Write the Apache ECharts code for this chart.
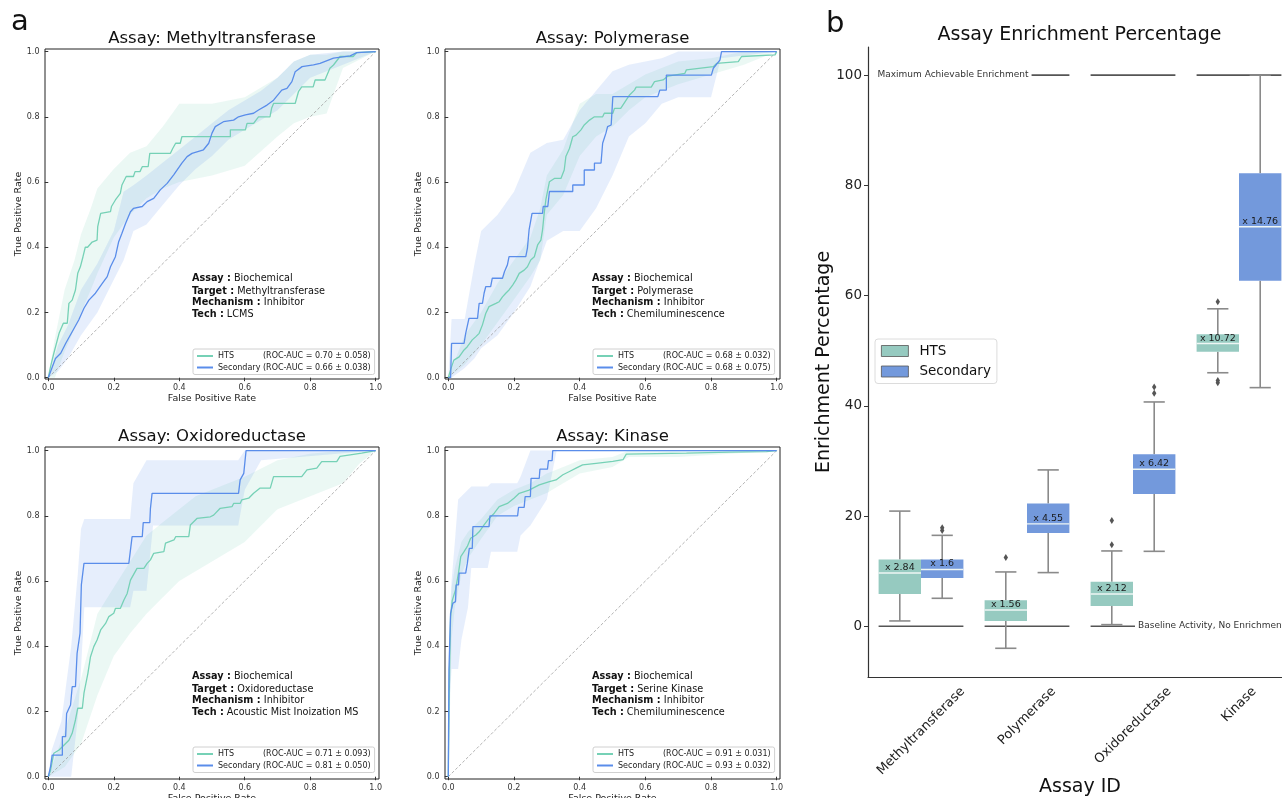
<!DOCTYPE html>
<html>
<head>
<meta charset="utf-8">
<script src="https://cdn.jsdelivr.net/npm/echarts@6/dist/echarts.min.js"></script>
<style>
  html, body { margin: 0; padding: 0; background: #fff; }
  #chart { width: 1282px; height: 798px; }
</style>
</head>
<body>
<div id="chart"></div>
<script>
// ---- ROC curves (mean) : [fpr, tpr] ----
var methHts = [[0,0],[0.007,0.034],[0.017,0.075],[0.033,0.136],[0.046,0.167],[0.058,0.167],[0.063,0.228],[0.073,0.238],[0.083,0.269],[0.09,0.32],[0.098,0.34],[0.106,0.371],[0.113,0.40],[0.12,0.40],[0.134,0.416],[0.149,0.422],[0.151,0.463],[0.16,0.504],[0.19,0.509],[0.193,0.525],[0.205,0.545],[0.22,0.565],[0.225,0.591],[0.238,0.617],[0.26,0.617],[0.265,0.632],[0.28,0.632],[0.287,0.647],[0.305,0.647],[0.31,0.688],[0.373,0.688],[0.38,0.703],[0.389,0.719],[0.403,0.719],[0.408,0.739],[0.556,0.739],[0.556,0.76],[0.602,0.76],[0.607,0.78],[0.627,0.78],[0.642,0.80],[0.677,0.80],[0.682,0.826],[0.688,0.841],[0.754,0.841],[0.764,0.877],[0.774,0.892],[0.809,0.892],[0.815,0.913],[0.845,0.913],[0.86,0.949],[0.871,0.959],[0.891,0.985],[0.931,0.985],[0.942,0.997],[1,1]];
var methSec = [[0,0],[0.022,0.059],[0.038,0.075],[0.053,0.105],[0.073,0.141],[0.093,0.177],[0.109,0.213],[0.124,0.238],[0.144,0.259],[0.165,0.289],[0.18,0.31],[0.19,0.34],[0.205,0.371],[0.215,0.417],[0.225,0.443],[0.236,0.473],[0.251,0.509],[0.26,0.519],[0.287,0.525],[0.302,0.54],[0.322,0.55],[0.342,0.576],[0.363,0.596],[0.383,0.622],[0.408,0.658],[0.424,0.678],[0.439,0.688],[0.474,0.699],[0.49,0.719],[0.5,0.75],[0.51,0.77],[0.535,0.785],[0.566,0.79],[0.581,0.8],[0.602,0.806],[0.627,0.811],[0.642,0.821],[0.668,0.836],[0.688,0.851],[0.713,0.882],[0.729,0.887],[0.744,0.908],[0.754,0.938],[0.775,0.954],[0.81,0.959],[0.83,0.964],[0.871,0.98],[0.922,0.987],[0.942,0.997],[1,1]];
var polyHts = [[0,0],[0.007,0.024],[0.017,0.054],[0.033,0.064],[0.048,0.085],[0.058,0.095],[0.073,0.116],[0.084,0.126],[0.094,0.136],[0.104,0.162],[0.114,0.197],[0.124,0.218],[0.145,0.228],[0.155,0.233],[0.165,0.248],[0.175,0.259],[0.185,0.269],[0.196,0.284],[0.206,0.3],[0.216,0.32],[0.231,0.33],[0.241,0.34],[0.251,0.361],[0.262,0.371],[0.272,0.407],[0.282,0.422],[0.287,0.453],[0.292,0.504],[0.297,0.545],[0.308,0.601],[0.323,0.611],[0.343,0.611],[0.353,0.637],[0.358,0.678],[0.369,0.703],[0.379,0.739],[0.389,0.744],[0.404,0.76],[0.414,0.775],[0.43,0.79],[0.445,0.8],[0.47,0.8],[0.475,0.811],[0.501,0.811],[0.506,0.826],[0.525,0.826],[0.542,0.852],[0.552,0.867],[0.567,0.882],[0.572,0.891],[0.618,0.891],[0.628,0.908],[0.654,0.913],[0.669,0.925],[0.72,0.933],[0.725,0.944],[0.807,0.954],[0.817,0.964],[0.883,0.969],[0.893,0.985],[0.995,0.99],[1,1]];
var polySec = [[0,0],[0.007,0],[0.01,0.105],[0.048,0.105],[0.053,0.136],[0.063,0.182],[0.089,0.182],[0.094,0.228],[0.104,0.228],[0.109,0.259],[0.114,0.279],[0.129,0.279],[0.134,0.305],[0.165,0.305],[0.171,0.325],[0.176,0.325],[0.18,0.346],[0.185,0.371],[0.236,0.371],[0.241,0.397],[0.246,0.453],[0.255,0.504],[0.287,0.504],[0.289,0.525],[0.303,0.525],[0.308,0.571],[0.379,0.571],[0.379,0.591],[0.414,0.591],[0.414,0.637],[0.445,0.637],[0.445,0.658],[0.465,0.658],[0.47,0.719],[0.48,0.75],[0.485,0.77],[0.496,0.775],[0.501,0.862],[0.638,0.862],[0.644,0.882],[0.664,0.882],[0.664,0.928],[0.801,0.928],[0.807,0.949],[0.827,0.974],[0.832,1],[1,1]];
var oxHts = [[0,0],[0.007,0.02],[0.017,0.072],[0.033,0.082],[0.043,0.092],[0.053,0.102],[0.063,0.112],[0.073,0.133],[0.083,0.174],[0.09,0.21],[0.104,0.21],[0.109,0.256],[0.121,0.317],[0.129,0.368],[0.139,0.399],[0.149,0.419],[0.16,0.45],[0.175,0.47],[0.185,0.491],[0.2,0.501],[0.205,0.516],[0.22,0.516],[0.231,0.542],[0.241,0.562],[0.251,0.603],[0.271,0.639],[0.292,0.639],[0.302,0.654],[0.312,0.665],[0.322,0.685],[0.353,0.69],[0.358,0.716],[0.384,0.726],[0.389,0.736],[0.429,0.736],[0.434,0.772],[0.454,0.792],[0.495,0.797],[0.505,0.802],[0.525,0.823],[0.561,0.828],[0.566,0.838],[0.586,0.838],[0.591,0.849],[0.612,0.854],[0.627,0.869],[0.647,0.885],[0.678,0.885],[0.688,0.92],[0.774,0.92],[0.79,0.941],[0.82,0.946],[0.835,0.966],[0.881,0.966],[0.891,0.982],[0.922,0.987],[0.957,0.992],[1,1]];
var oxSec = [[0,0],[0.007,0.031],[0.012,0.066],[0.043,0.066],[0.043,0.123],[0.053,0.123],[0.056,0.194],[0.068,0.22],[0.073,0.276],[0.083,0.276],[0.088,0.378],[0.097,0.44],[0.101,0.588],[0.107,0.588],[0.109,0.654],[0.246,0.654],[0.256,0.736],[0.287,0.736],[0.29,0.779],[0.31,0.779],[0.312,0.823],[0.317,0.869],[0.581,0.869],[0.586,0.91],[0.597,0.93],[0.604,1],[1,1]];
var kinHts = [[0,0],[0.002,0.184],[0.004,0.337],[0.007,0.49],[0.012,0.54],[0.022,0.573],[0.031,0.624],[0.038,0.675],[0.048,0.69],[0.058,0.706],[0.068,0.731],[0.084,0.741],[0.094,0.751],[0.109,0.772],[0.124,0.792],[0.14,0.808],[0.155,0.828],[0.18,0.838],[0.2,0.854],[0.216,0.869],[0.246,0.879],[0.277,0.895],[0.308,0.905],[0.328,0.91],[0.349,0.926],[0.369,0.936],[0.389,0.946],[0.409,0.956],[0.45,0.961],[0.501,0.967],[0.532,0.972],[0.542,0.989],[0.725,0.992],[0.857,0.995],[0.969,0.997],[1,1]];
var kinSec = [[0,0],[0.002,0.327],[0.007,0.501],[0.014,0.532],[0.022,0.537],[0.024,0.588],[0.031,0.588],[0.033,0.624],[0.053,0.624],[0.058,0.654],[0.064,0.7],[0.073,0.7],[0.075,0.767],[0.124,0.767],[0.127,0.8],[0.211,0.8],[0.214,0.826],[0.231,0.826],[0.234,0.859],[0.25,0.859],[0.252,0.915],[0.277,0.915],[0.279,0.943],[0.302,0.943],[0.305,0.969],[0.316,0.969],[0.318,1],[1,1]];

// ---- ROC spread bands : [fpr, lower, upper] ----
var methHtsBand = [[0,0,0],[0.02,0,0.12],[0.05,0.08,0.27],[0.08,0.15,0.36],[0.1,0.2,0.44],[0.13,0.27,0.52],[0.15,0.32,0.58],[0.2,0.43,0.64],[0.25,0.5,0.69],[0.3,0.55,0.71],[0.35,0.58,0.77],[0.4,0.6,0.84],[0.5,0.62,0.84],[0.6,0.65,0.86],[0.7,0.74,0.92],[0.75,0.78,0.97],[0.8,0.8,0.99],[0.85,0.81,0.99],[0.9,0.95,1],[1,1,1]];
var methSecBand = [[0,0,0],[0.03,0.02,0.1],[0.06,0.06,0.16],[0.1,0.13,0.27],[0.15,0.2,0.35],[0.2,0.3,0.45],[0.23,0.36,0.57],[0.26,0.45,0.59],[0.3,0.47,0.62],[0.35,0.53,0.66],[0.4,0.59,0.7],[0.45,0.64,0.74],[0.5,0.68,0.78],[0.55,0.73,0.82],[0.6,0.76,0.85],[0.65,0.79,0.88],[0.7,0.82,0.92],[0.75,0.87,0.97],[0.8,0.92,0.99],[0.9,0.96,1],[1,1,1]];
var polyHtsBand = [[0,0,0],[0.05,0.04,0.13],[0.1,0.1,0.2],[0.15,0.17,0.29],[0.2,0.24,0.36],[0.25,0.31,0.43],[0.28,0.36,0.52],[0.3,0.5,0.62],[0.35,0.56,0.7],[0.4,0.68,0.84],[0.45,0.74,0.87],[0.5,0.77,0.87],[0.55,0.82,0.9],[0.6,0.86,0.93],[0.7,0.9,0.97],[0.8,0.93,0.98],[0.9,0.96,1],[1,1,1]];
var polySecBand = [[0,0,0],[0.01,0,0.18],[0.05,0.03,0.18],[0.08,0.06,0.35],[0.1,0.09,0.45],[0.15,0.13,0.5],[0.2,0.2,0.57],[0.25,0.28,0.69],[0.3,0.42,0.72],[0.35,0.45,0.73],[0.4,0.45,0.82],[0.45,0.52,0.88],[0.5,0.62,0.94],[0.55,0.74,0.96],[0.6,0.78,0.97],[0.65,0.84,0.98],[0.7,0.86,1],[0.8,0.86,1],[0.83,0.98,1],[1,1,1]];
var oxHtsBand = [[0,0,0],[0.05,0.03,0.14],[0.1,0.1,0.3],[0.15,0.25,0.5],[0.2,0.37,0.58],[0.25,0.44,0.66],[0.3,0.5,0.74],[0.35,0.55,0.78],[0.4,0.6,0.82],[0.45,0.63,0.86],[0.5,0.66,0.88],[0.6,0.72,0.92],[0.7,0.82,0.97],[0.8,0.86,0.99],[0.9,0.9,1],[0.95,0.96,1],[1,1,1]];
var oxSecBand = [[0,0,0],[0.01,0,0.08],[0.04,0,0.17],[0.07,0,0.4],[0.09,0.18,0.62],[0.1,0.33,0.76],[0.11,0.52,0.79],[0.25,0.52,0.79],[0.26,0.57,0.9],[0.3,0.57,0.97],[0.32,0.77,0.97],[0.58,0.77,0.97],[0.6,0.88,1],[0.65,0.97,1],[1,1,1]];
var kinHtsBand = [[0,0,0],[0.005,0.2,0.45],[0.01,0.42,0.58],[0.02,0.52,0.64],[0.04,0.62,0.72],[0.06,0.67,0.75],[0.1,0.73,0.79],[0.15,0.8,0.85],[0.2,0.83,0.88],[0.25,0.85,0.9],[0.3,0.87,0.93],[0.35,0.9,0.95],[0.4,0.93,0.97],[0.5,0.95,0.98],[0.55,0.98,1],[0.7,0.98,1],[0.86,0.99,1],[1,1,1]];
var kinSecBand = [[0,0,0],[0.005,0.25,0.5],[0.01,0.33,0.6],[0.02,0.33,0.72],[0.03,0.33,0.85],[0.04,0.42,0.86],[0.06,0.52,0.88],[0.07,0.64,0.89],[0.12,0.64,0.89],[0.13,0.69,0.9],[0.21,0.69,0.9],[0.22,0.74,0.92],[0.25,0.77,1],[0.3,0.85,1],[0.32,0.95,1],[0.33,1,1],[1,1,1]];

var chanceLine = [[0,0],[1,1]];
var rocTicks = [0, 0.2, 0.4, 0.6, 0.8, 1.0];

// AUC text [HTS, Secondary]
var methAuc = ['0.70 ± 0.058', '0.66 ± 0.038'];
var polyAuc = ['0.68 ± 0.032', '0.68 ± 0.075'];
var oxAuc = ['0.71 ± 0.093', '0.81 ± 0.050'];
var kinAuc = ['0.91 ± 0.031', '0.93 ± 0.032'];

// ---- enrichment boxes : [whiskerLow, q1, median, q3, whiskerHigh] ----
var assays = ['Methyltransferase', 'Polymerase', 'Oxidoreductase', 'Kinase'];
var htsBox = [[0.97,5.87,9.67,12.1,20.9],[-3.99,0.97,2.96,4.72,9.86],[0.3,3.7,5.87,8.1,13.67],[46.0,49.8,51.3,53.0,57.6]];
var secBox = [[5.08,8.77,10.3,12.1,16.5],[9.74,16.94,18.58,22.27,28.37],[13.6,24.0,28.5,31.2,40.7],[43.3,62.7,72.5,82.2,100]];
var htsFold = ['x 2.84', 'x 1.56', 'x 2.12', 'x 10.72'];
var secFold = ['x 1.6', 'x 4.55', 'x 6.42', 'x 14.76'];
var htsOutliers = [[1,12.47],[2,14.8],[2,19.2],[3,58.9],[3,44.6],[3,44.2]];
var secOutliers = [[0,17.4],[0,17.9],[2,42.3],[2,43.4]];
var baselineLevel = [0, 0, 0, 0];
var maxLevel = [100, 100, 100, 100];
var enrichTicks = [0, 20, 40, 60, 80, 100];

var FONT = '"DejaVu Sans", sans-serif';
var HTS_LINE = '#76d1b6', SEC_LINE = '#5a8dea';
var HTS_BOX = '#96cac0', SEC_BOX = '#7399dc';

var rocPanels = [
  { title: 'Assay: Methyltransferase', target: 'Methyltransferase', tech: 'LCMS', hts: methHts, sec: methSec, htsBand: methHtsBand, secBand: methSecBand, auc: methAuc },
  { title: 'Assay: Polymerase', target: 'Polymerase', tech: 'Chemiluminescence', hts: polyHts, sec: polySec, htsBand: polyHtsBand, secBand: polySecBand, auc: polyAuc },
  { title: 'Assay: Oxidoreductase', target: 'Oxidoreductase', tech: 'Acoustic Mist Inoization MS', hts: oxHts, sec: oxSec, htsBand: oxHtsBand, secBand: oxSecBand, auc: oxAuc },
  { title: 'Assay: Kinase', target: 'Serine Kinase', tech: 'Chemiluminescence', hts: kinHts, sec: kinSec, htsBand: kinHtsBand, secBand: kinSecBand, auc: kinAuc }
];
var rocGrids = [
  { left: 45, top: 49, width: 334, height: 330 },
  { left: 445, top: 49, width: 335, height: 330 },
  { left: 45, top: 447, width: 334, height: 332 },
  { left: 445, top: 447, width: 335, height: 332 }
];

function bandRender(band, color) {
  return function (params, api) {
    if (params.dataIndex !== 0) return null;
    var pts = [];
    for (var i = 0; i < band.length; i++) pts.push(api.coord([band[i][0], band[i][2]]));
    for (var j = band.length - 1; j >= 0; j--) pts.push(api.coord([band[j][0], band[j][1]]));
    return { type: 'polygon', shape: { points: pts }, style: { fill: color, opacity: 0.15 } };
  };
}

var grids = [], xAxes = [], yAxes = [], series = [], legends = [], graphics = [];

rocPanels.forEach(function (p, i) {
  var g = rocGrids[i];
  grids.push({ left: g.left, top: g.top, width: g.width, height: g.height, show: true,
    borderColor: '#222', borderWidth: 1, backgroundColor: 'transparent', outerBoundsMode: 'none' });
  xAxes.push({
    gridIndex: i, type: 'value', min: -0.01, max: 1.01,
    axisLine: { show: false }, splitLine: { show: false },
    axisTick: { customValues: rocTicks, length: 3.5, lineStyle: { color: '#333' } },
    axisLabel: { customValues: rocTicks, formatter: function (v) { return v.toFixed(1); },
      fontSize: 8, fontFamily: FONT, color: '#333', margin: 5 },
    name: 'False Positive Rate', nameLocation: 'middle', nameGap: 15, nameMoveOverlap: false,
    nameTextStyle: { fontSize: 9.5, fontFamily: FONT, color: '#222' }
  });
  yAxes.push({
    gridIndex: i, type: 'value', min: i < 2 ? -0.004 : -0.007, max: i < 2 ? 1.008 : 1.011,
    axisLine: { show: false }, splitLine: { show: false },
    axisTick: { customValues: rocTicks, length: 3.5, lineStyle: { color: '#333' } },
    axisLabel: { customValues: rocTicks, formatter: function (v) { return v.toFixed(1); },
      fontSize: 8, fontFamily: FONT, color: '#333', margin: 5.5 },
    name: 'True Positive Rate', nameLocation: 'middle', nameGap: 21.5, nameRotate: 90, nameMoveOverlap: false,
    nameTextStyle: { fontSize: 9.5, fontFamily: FONT, color: '#222' }
  });
  var htsName = 'HTS (ROC-AUC = ' + p.auc[0] + ')';
  var secName = 'Secondary (ROC-AUC = ' + p.auc[1] + ')';
  series.push(
    { type: 'custom', xAxisIndex: i, yAxisIndex: i, data: p.htsBand, encode: { x: 0, y: [1, 2] },
      renderItem: bandRender(p.htsBand, HTS_LINE), z: 1, silent: true },
    { type: 'custom', xAxisIndex: i, yAxisIndex: i, data: p.secBand, encode: { x: 0, y: [1, 2] },
      renderItem: bandRender(p.secBand, SEC_LINE), z: 1, silent: true },
    { type: 'line', xAxisIndex: i, yAxisIndex: i, data: chanceLine, symbol: 'none', z: 2, silent: true,
      lineStyle: { color: '#a0a0a0', width: 0.8, type: [3, 2] } },
    { type: 'line', name: htsName, xAxisIndex: i, yAxisIndex: i, data: p.hts, symbol: 'none', z: 3,
      itemStyle: { color: HTS_LINE }, lineStyle: { color: HTS_LINE, width: 1.3 } },
    { type: 'line', name: secName, xAxisIndex: i, yAxisIndex: i, data: p.sec, symbol: 'none', z: 3,
      itemStyle: { color: SEC_LINE }, lineStyle: { color: SEC_LINE, width: 1.3 } }
  );
  legends.push({
    data: [htsName, secName], orient: 'vertical', left: g.left + 148, top: g.top + 300,
    itemWidth: 16, itemHeight: 8, itemGap: 3.5, padding: [3, 4, 3, 3],
    backgroundColor: 'rgba(255,255,255,0.85)', borderColor: '#d0d0d0', borderWidth: 1, borderRadius: 2,
    selectedMode: false,
    itemStyle: { opacity: 0 },
    formatter: function (name) {
      var k = name.indexOf(' (');
      return '{k|' + name.slice(0, k) + '}{v|' + name.slice(k + 1) + '}';
    },
    textStyle: { fontSize: 8, fontFamily: FONT, color: '#222',
      rich: { k: { width: 45, fontSize: 8, fontFamily: FONT, color: '#222' }, v: { fontSize: 8, fontFamily: FONT, color: '#222' } } }
  });
  // title
  graphics.push({ type: 'text', x: g.left + g.width / 2, y: g.top - 10.5, z: 10,
    style: { text: p.title, fontSize: 16.5, fontFamily: FONT, fill: '#111', align: 'center', verticalAlign: 'middle' } });
  // assay description
  var lines = [['Assay :', 'Biochemical'], ['Target :', p.target], ['Mechanism :', 'Inhibitor'], ['Tech :', p.tech]];
  var offs = [229.5, 242, 253.5, 265];
  lines.forEach(function (ln, j) {
    graphics.push({ type: 'text', x: g.left + 147, y: g.top + offs[j], z: 10,
      style: { text: '{b|' + ln[0] + '} ' + ln[1], fontSize: 9.7, fontFamily: FONT, fill: '#111',
        align: 'left', verticalAlign: 'middle',
        rich: { b: { fontSize: 9.7, fontFamily: FONT, fontWeight: 'bold', fill: '#111' } } } });
  });
});

// ---- panel b ----
var measureCtx = document.createElement('canvas').getContext('2d');
measureCtx.font = '13px "DejaVu Sans"';
var catRich = {};
assays.forEach(function (a, i) {
  var p = measureCtx.measureText(a).width / 2;
  catRich['c' + i] = { padding: [p, p, 0, 0], fontSize: 13, fontFamily: FONT, color: '#222' };
});

grids.push({ left: 868, top: 47, width: 424, height: 630, outerBoundsMode: 'none' });
xAxes.push({
  gridIndex: 4, type: 'category', data: assays,
  axisLine: { onZero: false, lineStyle: { color: '#333', width: 1.2 } },
  axisTick: { alignWithLabel: true, length: 4, lineStyle: { color: '#333' } },
  axisLabel: { rotate: 45, align: 'center', verticalAlign: 'middle', margin: 12.5, interval: 0,
    formatter: function (v, idx) { return '{c' + idx + '|' + v + '}'; }, rich: catRich,
    fontSize: 13, fontFamily: FONT, color: '#222' },
  name: 'Assay ID', nameLocation: 'middle', nameGap: 101, nameMoveOverlap: false,
  nameTextStyle: { fontSize: 19, fontFamily: FONT, color: '#111' }
});
yAxes.push({
  gridIndex: 4, type: 'value', min: -9.2, max: 105.1,
  axisLine: { show: true, lineStyle: { color: '#333', width: 1.2 } },
  splitLine: { show: false },
  axisTick: { show: true, customValues: enrichTicks, length: 4, lineStyle: { color: '#333' } },
  axisLabel: { customValues: enrichTicks, fontSize: 13.5, fontFamily: FONT, color: '#222', margin: 6 },
  name: 'Enrichment Percentage', nameLocation: 'middle', nameGap: 34, nameRotate: 90, nameMoveOverlap: false,
  nameTextStyle: { fontSize: 19, fontFamily: FONT, color: '#111' }
});

function levelRender(params, api) {
  var cat = api.value(0);
  var band = api.size([1, 0])[0];
  var c = api.coord([cat, api.value(1)]);
  return { type: 'line', shape: { x1: c[0] - band * 0.4, y1: c[1], x2: c[0] + band * 0.4, y2: c[1] },
    style: { stroke: '#555', lineWidth: 1.6 } };
}

function boxRender(side, color, folds) {
  return function (params, api) {
    var cat = api.value(0);
    var band = api.size([1, 0])[0];
    var half = band * 0.2;
    var cx = api.coord([cat, 0])[0] + side * half;
    function py(k) { return api.coord([cat, api.value(k)])[1]; }
    var lo = py(1), q1 = py(2), med = py(3), q3 = py(4), hi = py(5);
    var ws = { stroke: '#8a8a8a', lineWidth: 1.6 };
    return { type: 'group', children: [
      { type: 'line', shape: { x1: cx, y1: q1, x2: cx, y2: lo }, style: ws },
      { type: 'line', shape: { x1: cx, y1: q3, x2: cx, y2: hi }, style: ws },
      { type: 'line', shape: { x1: cx - half / 2, y1: lo, x2: cx + half / 2, y2: lo }, style: ws },
      { type: 'line', shape: { x1: cx - half / 2, y1: hi, x2: cx + half / 2, y2: hi }, style: ws },
      { type: 'rect', shape: { x: cx - half, y: q3, width: half * 2, height: q1 - q3 }, style: { fill: color } },
      { type: 'line', shape: { x1: cx - half, y1: med, x2: cx + half, y2: med }, style: { stroke: '#eef6f4', lineWidth: 1.4 } },
      { type: 'text', x: cx, y: med - 0.5, style: { text: folds[params.dataIndex], fontSize: 9.5, fontFamily: FONT,
        fill: '#1a1a1a', align: 'center', verticalAlign: 'bottom' } }
    ] };
  };
}

function outlierRender(side) {
  return function (params, api) {
    var band = api.size([1, 0])[0];
    var c = api.coord([api.value(0), api.value(1)]);
    var x = c[0] + side * band * 0.2, y = c[1];
    return { type: 'polygon', shape: { points: [[x, y - 3.5], [x + 2.2, y], [x, y + 3.5], [x - 2.2, y]] },
      style: { fill: '#555' } };
  };
}

function withIndex(arr) { return arr.map(function (v, i) { return [i].concat(v); }); }

series.push(
  { type: 'custom', xAxisIndex: 4, yAxisIndex: 4, data: withIndex(baselineLevel), encode: { x: 0, y: 1 },
    renderItem: levelRender, z: 1, silent: true },
  { type: 'custom', xAxisIndex: 4, yAxisIndex: 4, data: withIndex(maxLevel), encode: { x: 0, y: 1 },
    renderItem: levelRender, z: 1, silent: true },
  { type: 'custom', name: 'HTS', xAxisIndex: 4, yAxisIndex: 4, data: withIndex(htsBox),
    encode: { x: 0, y: [1, 2, 3, 4, 5] }, renderItem: boxRender(-1, HTS_BOX, htsFold), z: 2,
    itemStyle: { color: HTS_BOX } },
  { type: 'custom', name: 'Secondary', xAxisIndex: 4, yAxisIndex: 4, data: withIndex(secBox),
    encode: { x: 0, y: [1, 2, 3, 4, 5] }, renderItem: boxRender(1, SEC_BOX, secFold), z: 2,
    itemStyle: { color: SEC_BOX } },
  { type: 'custom', xAxisIndex: 4, yAxisIndex: 4, data: htsOutliers, encode: { x: 0, y: 1 },
    renderItem: outlierRender(-1), z: 3, silent: true },
  { type: 'custom', xAxisIndex: 4, yAxisIndex: 4, data: secOutliers, encode: { x: 0, y: 1 },
    renderItem: outlierRender(1), z: 3, silent: true }
);

legends.push({
  data: ['HTS', 'Secondary'], orient: 'vertical', left: 875, top: 339, icon: 'rect',
  itemWidth: 27, itemHeight: 11, itemGap: 6.5, padding: [5, 6, 5, 6], selectedMode: false,
  borderColor: '#dcdcdc', borderWidth: 1, borderRadius: 3, backgroundColor: '#fff',
  itemStyle: { borderColor: '#555', borderWidth: 0.8 },
  textStyle: { fontSize: 13.5, fontFamily: FONT, color: '#111', padding: [0, 0, 0, 6] }
});

graphics.push(
  { type: 'text', x: 1079.5, y: 35, z: 10,
    style: { text: 'Assay Enrichment Percentage', fontSize: 19, fontFamily: FONT, fill: '#111', align: 'center', verticalAlign: 'middle' } },
  { type: 'text', x: 953, y: 74.5, z: 10,
    style: { text: 'Maximum Achievable Enrichment', fontSize: 9, fontFamily: FONT, fill: '#333', align: 'center',
      verticalAlign: 'middle', backgroundColor: '#fff', padding: [1, 3] } },
  { type: 'text', x: 1135, y: 626, z: 10,
    style: { text: 'Baseline Activity, No Enrichment', fontSize: 9, fontFamily: FONT, fill: '#333', align: 'left',
      verticalAlign: 'middle', backgroundColor: '#fff', padding: [1, 3] } },
  { type: 'text', x: 11, y: 22.5, z: 10,
    style: { text: 'a', fontSize: 29, fontFamily: FONT, fill: '#111', align: 'left', verticalAlign: 'middle' } },
  { type: 'text', x: 826, y: 24.5, z: 10,
    style: { text: 'b', fontSize: 29, fontFamily: FONT, fill: '#111', align: 'left', verticalAlign: 'middle' } }
);

var chart = echarts.init(document.getElementById('chart'), null, { renderer: 'canvas' });
chart.setOption({
  animation: false,
  backgroundColor: '#fff',
  grid: grids,
  xAxis: xAxes,
  yAxis: yAxes,
  legend: legends,
  series: series,
  graphic: graphics
});
</script>
</body>
</html>
